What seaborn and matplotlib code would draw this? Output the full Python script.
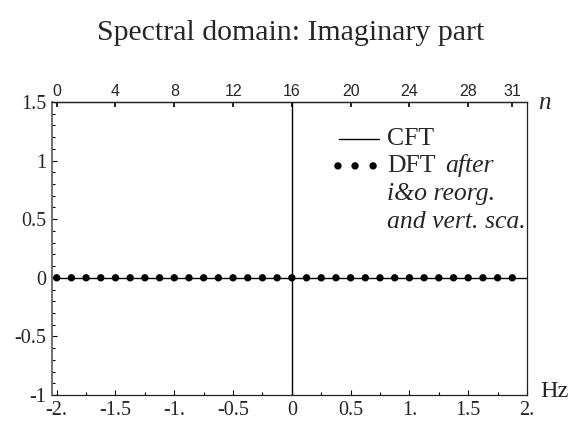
import matplotlib
matplotlib.use("Agg")
import matplotlib.pyplot as plt
import seaborn as sns
from matplotlib.ticker import FixedLocator, FixedFormatter, MultipleLocator

# imaginary part of the spectrum (identically zero)
cft_hz = [-2.0, 2.0]
cft_imag = [0.0, 0.0]

dft_n = [0, 1, 2, 3, 4, 5, 6, 7, 8, 9, 10, 11, 12, 13, 14, 15,
         16, 17, 18, 19, 20, 21, 22, 23, 24, 25, 26, 27, 28, 29, 30, 31]
dft_hz = [-2.0, -1.875, -1.75, -1.625, -1.5, -1.375, -1.25, -1.125,
          -1.0, -0.875, -0.75, -0.625, -0.5, -0.375, -0.25, -0.125,
          0.0, 0.125, 0.25, 0.375, 0.5, 0.625, 0.75, 0.875,
          1.0, 1.125, 1.25, 1.375, 1.5, 1.625, 1.75, 1.875]
dft_imag = [0.0, 0.0, 0.0, 0.0, 0.0, 0.0, 0.0, 0.0,
            0.0, 0.0, 0.0, 0.0, 0.0, 0.0, 0.0, 0.0,
            0.0, 0.0, 0.0, 0.0, 0.0, 0.0, 0.0, 0.0,
            0.0, 0.0, 0.0, 0.0, 0.0, 0.0, 0.0, 0.0]

hz_ticks = [-2, -1.5, -1, -0.5, 0, 0.5, 1, 1.5, 2]
hz_labels = ["-2.", "-1.5", "-1.", "-0.5", "0", "0.5", "1.", "1.5", "2."]
imag_ticks = [-1, -0.5, 0, 0.5, 1, 1.5]
imag_labels = ["-1", "-0.5", "0", "0.5", "1", "1.5"]
n_ticks = [0, 4, 8, 12, 16, 20, 24, 28, 31]

n_center = 16
hz_per_bin = 0.125

sns.set_style("ticks")
plt.rcParams["font.family"] = ["Liberation Serif", "DejaVu Serif"]

fig = plt.figure(figsize=(5.82, 4.21), dpi=100)
ax = fig.add_axes([52 / 582, 26 / 421, 475 / 582, 293 / 421])

sns.lineplot(x=cft_hz, y=cft_imag, ax=ax, color="black", linewidth=1.0)
sns.scatterplot(x=dft_hz, y=dft_imag, ax=ax, color="black", s=28,
                edgecolor="none", zorder=3)
ax.axvline(0, color="black", linewidth=1.0)

ax.set_xlim(-2.04, 2.0)
ax.set_ylim(-1.0, 1.5)

ax.xaxis.set_major_locator(FixedLocator(hz_ticks))
ax.xaxis.set_major_formatter(FixedFormatter(hz_labels))
ax.xaxis.set_minor_locator(MultipleLocator(0.25))
ax.yaxis.set_major_locator(FixedLocator(imag_ticks))
ax.yaxis.set_major_formatter(FixedFormatter(imag_labels))
ax.yaxis.set_minor_locator(MultipleLocator(0.1))

ax.tick_params(which="both", direction="in", top=False, right=False,
               color="black", width=0.8, labelsize=14.5)
ax.tick_params(which="major", length=3.5, pad=4)
ax.tick_params(which="minor", length=2)
for side in ["left", "bottom", "right", "top"]:
    ax.spines[side].set_visible(True)
    ax.spines[side].set_color("#222222")
    ax.spines[side].set_linewidth(0.9)
ax.spines["left"].set_color("#666666")
ax.spines["left"].set_linewidth(1.3)

top = ax.secondary_xaxis("top", functions=(lambda f: f / hz_per_bin + n_center,
                                           lambda n: (n - n_center) * hz_per_bin))
top.xaxis.set_major_locator(FixedLocator(n_ticks))
top.tick_params(direction="in", length=3.5, width=1.2, pad=2, labelsize=11.5,
                color="black")
for lab in top.get_xticklabels():
    lab.set_family(["Liberation Sans", "DejaVu Sans"])
top.spines["top"].set_color("#222222")
top.spines["top"].set_linewidth(0.9)

ax.set_xlabel("")
ax.set_ylabel("")

# legend drawn by hand
leg_size = 18.5
ax.plot([0.604, 0.688], [0.873, 0.873], transform=ax.transAxes, color="black",
        linewidth=1.0, clip_on=False)
ax.scatter([0.602, 0.638, 0.676], [0.782, 0.782, 0.782], transform=ax.transAxes,
           color="black", s=28, edgecolor="none", clip_on=False)
ax.text(0.705, 0.853, "CFT", transform=ax.transAxes, fontsize=leg_size,
        va="baseline", ha="left")
ax.text(0.705, 0.761, "DFT", transform=ax.transAxes, fontsize=leg_size,
        va="baseline", ha="left")
ax.text(0.827, 0.761, "after", transform=ax.transAxes, fontsize=leg_size,
        style="italic", va="baseline", ha="left", clip_on=True)
ax.text(0.705, 0.666, "i&o reorg.", transform=ax.transAxes, fontsize=leg_size,
        style="italic", va="baseline", ha="left", clip_on=True)
ax.text(0.705, 0.570, "and vert. sca.", transform=ax.transAxes, fontsize=leg_size,
        style="italic", va="baseline", ha="left", clip_on=True)

fig.text(0.5, 0.921, "Spectral domain: Imaginary part", ha="center",
         va="center", fontsize=21.5)
fig.text(540 / 582, 0.069, "Hz", ha="left", va="center", fontsize=17.5)
fig.text(538 / 582, 0.755, "n", ha="left", va="center", fontsize=18,
         style="italic")

fig.savefig("out.png", dpi=100)
